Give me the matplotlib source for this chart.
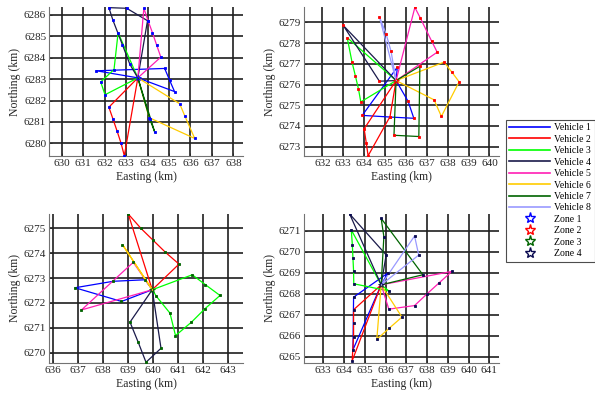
import matplotlib
matplotlib.use("Agg")
import matplotlib.pyplot as plt
from matplotlib.lines import Line2D

plt.rcParams['font.family'] = ['Liberation Serif', 'DejaVu Serif']

# depots (easting, northing) in km
depots = [(633.55, 6283.06), (635.53, 6276.19), (639.96, 6272.53), (635.79, 6268.43)]

# visited points of each vehicle, route starts and ends at the depot
zone1_routes = {
    1: [(631.62, 6283.39), (634.80, 6283.50), (635.03, 6282.95), (635.26, 6282.42)],
    2: [(632.20, 6281.69), (632.39, 6281.14), (632.58, 6280.58), (632.77, 6280.00), (632.92, 6279.42)],
    3: [(632.63, 6285.17), (632.44, 6283.45), (631.82, 6282.87), (632.02, 6282.27)],
    4: [(634.00, 6285.73), (633.03, 6286.31), (632.20, 6286.34), (632.39, 6285.75), (632.83, 6284.61), (633.18, 6283.69)],
    5: [(634.62, 6284.03), (634.42, 6284.61), (634.23, 6285.17), (634.03, 6285.72), (633.83, 6286.31)],
    6: [(635.50, 6281.85), (635.73, 6281.30), (636.20, 6280.23), (634.08, 6281.20)],
    7: [(634.10, 6281.15), (634.34, 6280.52)],
}
zone2_routes = {
    1: [(635.59, 6276.84), (633.91, 6274.51), (635.24, 6274.43), (636.38, 6274.37), (636.11, 6275.18)],
    2: [(634.00, 6273.86), (634.10, 6273.20), (634.19, 6272.56), (635.24, 6274.45)],
    3: [(633.19, 6278.26), (633.42, 6277.08), (633.58, 6276.42), (633.73, 6275.78), (633.84, 6275.16)],
    4: [(633.00, 6278.85), (634.73, 6276.16)],
    5: [(636.43, 6279.72), (636.70, 6279.19), (637.23, 6278.10), (637.50, 6277.56)],
    6: [(637.83, 6277.08), (638.20, 6276.60), (638.55, 6276.13), (637.70, 6274.46), (637.35, 6275.26)],
    7: [(636.67, 6276.88), (636.62, 6273.49), (635.43, 6273.55)],
    8: [(634.73, 6279.27), (635.05, 6278.45), (635.29, 6277.60)],
}
zone3_routes = {
    1: [(639.67, 6272.93), (638.40, 6272.87), (636.87, 6272.61), (638.73, 6272.06)],
    2: [(639.00, 6275.57), (639.50, 6275.00), (640.00, 6274.51), (640.49, 6274.03), (641.03, 6273.56)],
    3: [(641.56, 6273.13), (642.09, 6272.73), (642.67, 6272.30), (642.07, 6271.77), (641.53, 6271.23),
        (640.89, 6270.69), (640.67, 6271.59), (640.13, 6272.26)],
    4: [(639.07, 6271.23), (639.40, 6270.42), (639.71, 6269.62), (640.31, 6270.18)],
    5: [(639.20, 6273.63), (637.13, 6271.72)],
    6: [(638.77, 6274.34)],
}
zone4_routes = {
    1: [(636.11, 6268.99), (634.46, 6267.84), (634.43, 6265.33)],
    2: [(634.46, 6267.24), (634.46, 6266.60), (634.46, 6265.96), (634.39, 6264.80)],
    3: [(634.35, 6271.05), (634.40, 6270.34), (634.43, 6269.70), (634.46, 6269.08), (634.47, 6268.48), (636.16, 6268.14)],
    4: [(634.27, 6271.81), (636.03, 6269.86)],
    5: [(639.20, 6269.07), (638.60, 6268.54), (637.98, 6267.98), (637.40, 6267.44), (636.16, 6267.27)],
    6: [(636.79, 6266.89), (636.19, 6266.37), (635.58, 6265.83)],
    7: [(635.92, 6270.73), (635.79, 6271.60), (637.80, 6268.91)],
    8: [(637.40, 6270.76), (637.60, 6269.85)],
}
routes = [zone1_routes, zone2_routes, zone3_routes, zone4_routes]

vehicle_colors = {1: '#0000ff', 2: '#ff0000', 3: '#00ff00', 4: '#1a1a4a',
                  5: '#ff1fb4', 6: '#ffcc00', 7: '#006400', 8: '#9999ff'}
zone_colors = ['#0000ff', '#ff0000', '#006400', '#0a0a50']

xlims = [(629.41, 638.45), (631.12, 640.46), (635.83, 643.59), (632.07, 641.47)]
ylims = [(6279.41, 6286.37), (6272.55, 6279.74), (6269.59, 6275.57), (6264.70, 6271.81)]
xticks = [range(630, 639), range(632, 641), range(636, 644), range(633, 642)]
yticks = [range(6280, 6287), range(6273, 6280), range(6270, 6276), range(6265, 6272)]

W, H = 595, 397
boxes = [(49, 7, 243, 156), (304, 7, 499, 156), (49, 214, 243, 363), (304, 214, 499, 363)]

fig = plt.figure(figsize=(5.95, 3.97), dpi=100)

for k in range(4):
    l, t, r, b = boxes[k]
    ax = fig.add_axes([l / W, 1 - b / H, (r - l) / W, (b - t) / H])
    dx, dy = depots[k]
    for v, pts in routes[k].items():
        xs = [dx] + [p[0] for p in pts] + [dx]
        ys = [dy] + [p[1] for p in pts] + [dy]
        ax.plot(xs, ys, color=vehicle_colors[v], lw=0.9, zorder=3)
        ax.plot(xs[1:-1], ys[1:-1], ls='none', marker='s', ms=2.0, mfc=zone_colors[k],
                mec=zone_colors[k], mew=0.6, zorder=4)
    ax.plot(dx, dy, marker='*', ms=4, mfc='none', mec=zone_colors[k], mew=0.6, zorder=5)
    ax.set_xlim(*xlims[k])
    ax.set_ylim(*ylims[k])
    ax.set_xticks(list(xticks[k]))
    ax.set_yticks(list(yticks[k]))
    ax.grid(True, color='0.12', lw=1.2, zorder=1)
    ax.set_axisbelow(True)
    ax.tick_params(direction='in', length=2, width=0.6, labelsize=8, pad=2, colors='0.15')
    for s in ['top', 'right']:
        ax.spines[s].set_visible(False)
    for s in ['left', 'bottom']:
        ax.spines[s].set_color('0.45')
        ax.spines[s].set_linewidth(0.8)
    ax.set_xlabel('Easting (km)', fontsize=8.5, labelpad=2, color='0.15')
    ax.set_ylabel('Northing (km)', fontsize=8.5, labelpad=2, color='0.15')

handles = [Line2D([], [], color=vehicle_colors[v], lw=1.2) for v in range(1, 9)]
labels = ['Vehicle %d' % v for v in range(1, 9)]
for k in range(4):
    handles.append(Line2D([], [], ls='none', marker='*', ms=8, mfc='none', mec=zone_colors[k], mew=1.0))
    labels.append('Zone %d' % (k + 1))
leg = fig.legend(handles, labels, loc='upper left', bbox_to_anchor=(506 / W, 1 - 120 / H),
                 fontsize=7, handlelength=4.2, handletextpad=0.4, labelspacing=0.25,
                 borderpad=0.35, borderaxespad=0, fancybox=False, framealpha=1)
leg.get_frame().set_edgecolor('0.3')
leg.get_frame().set_linewidth(0.8)

fig.savefig('out.png', dpi=100)
